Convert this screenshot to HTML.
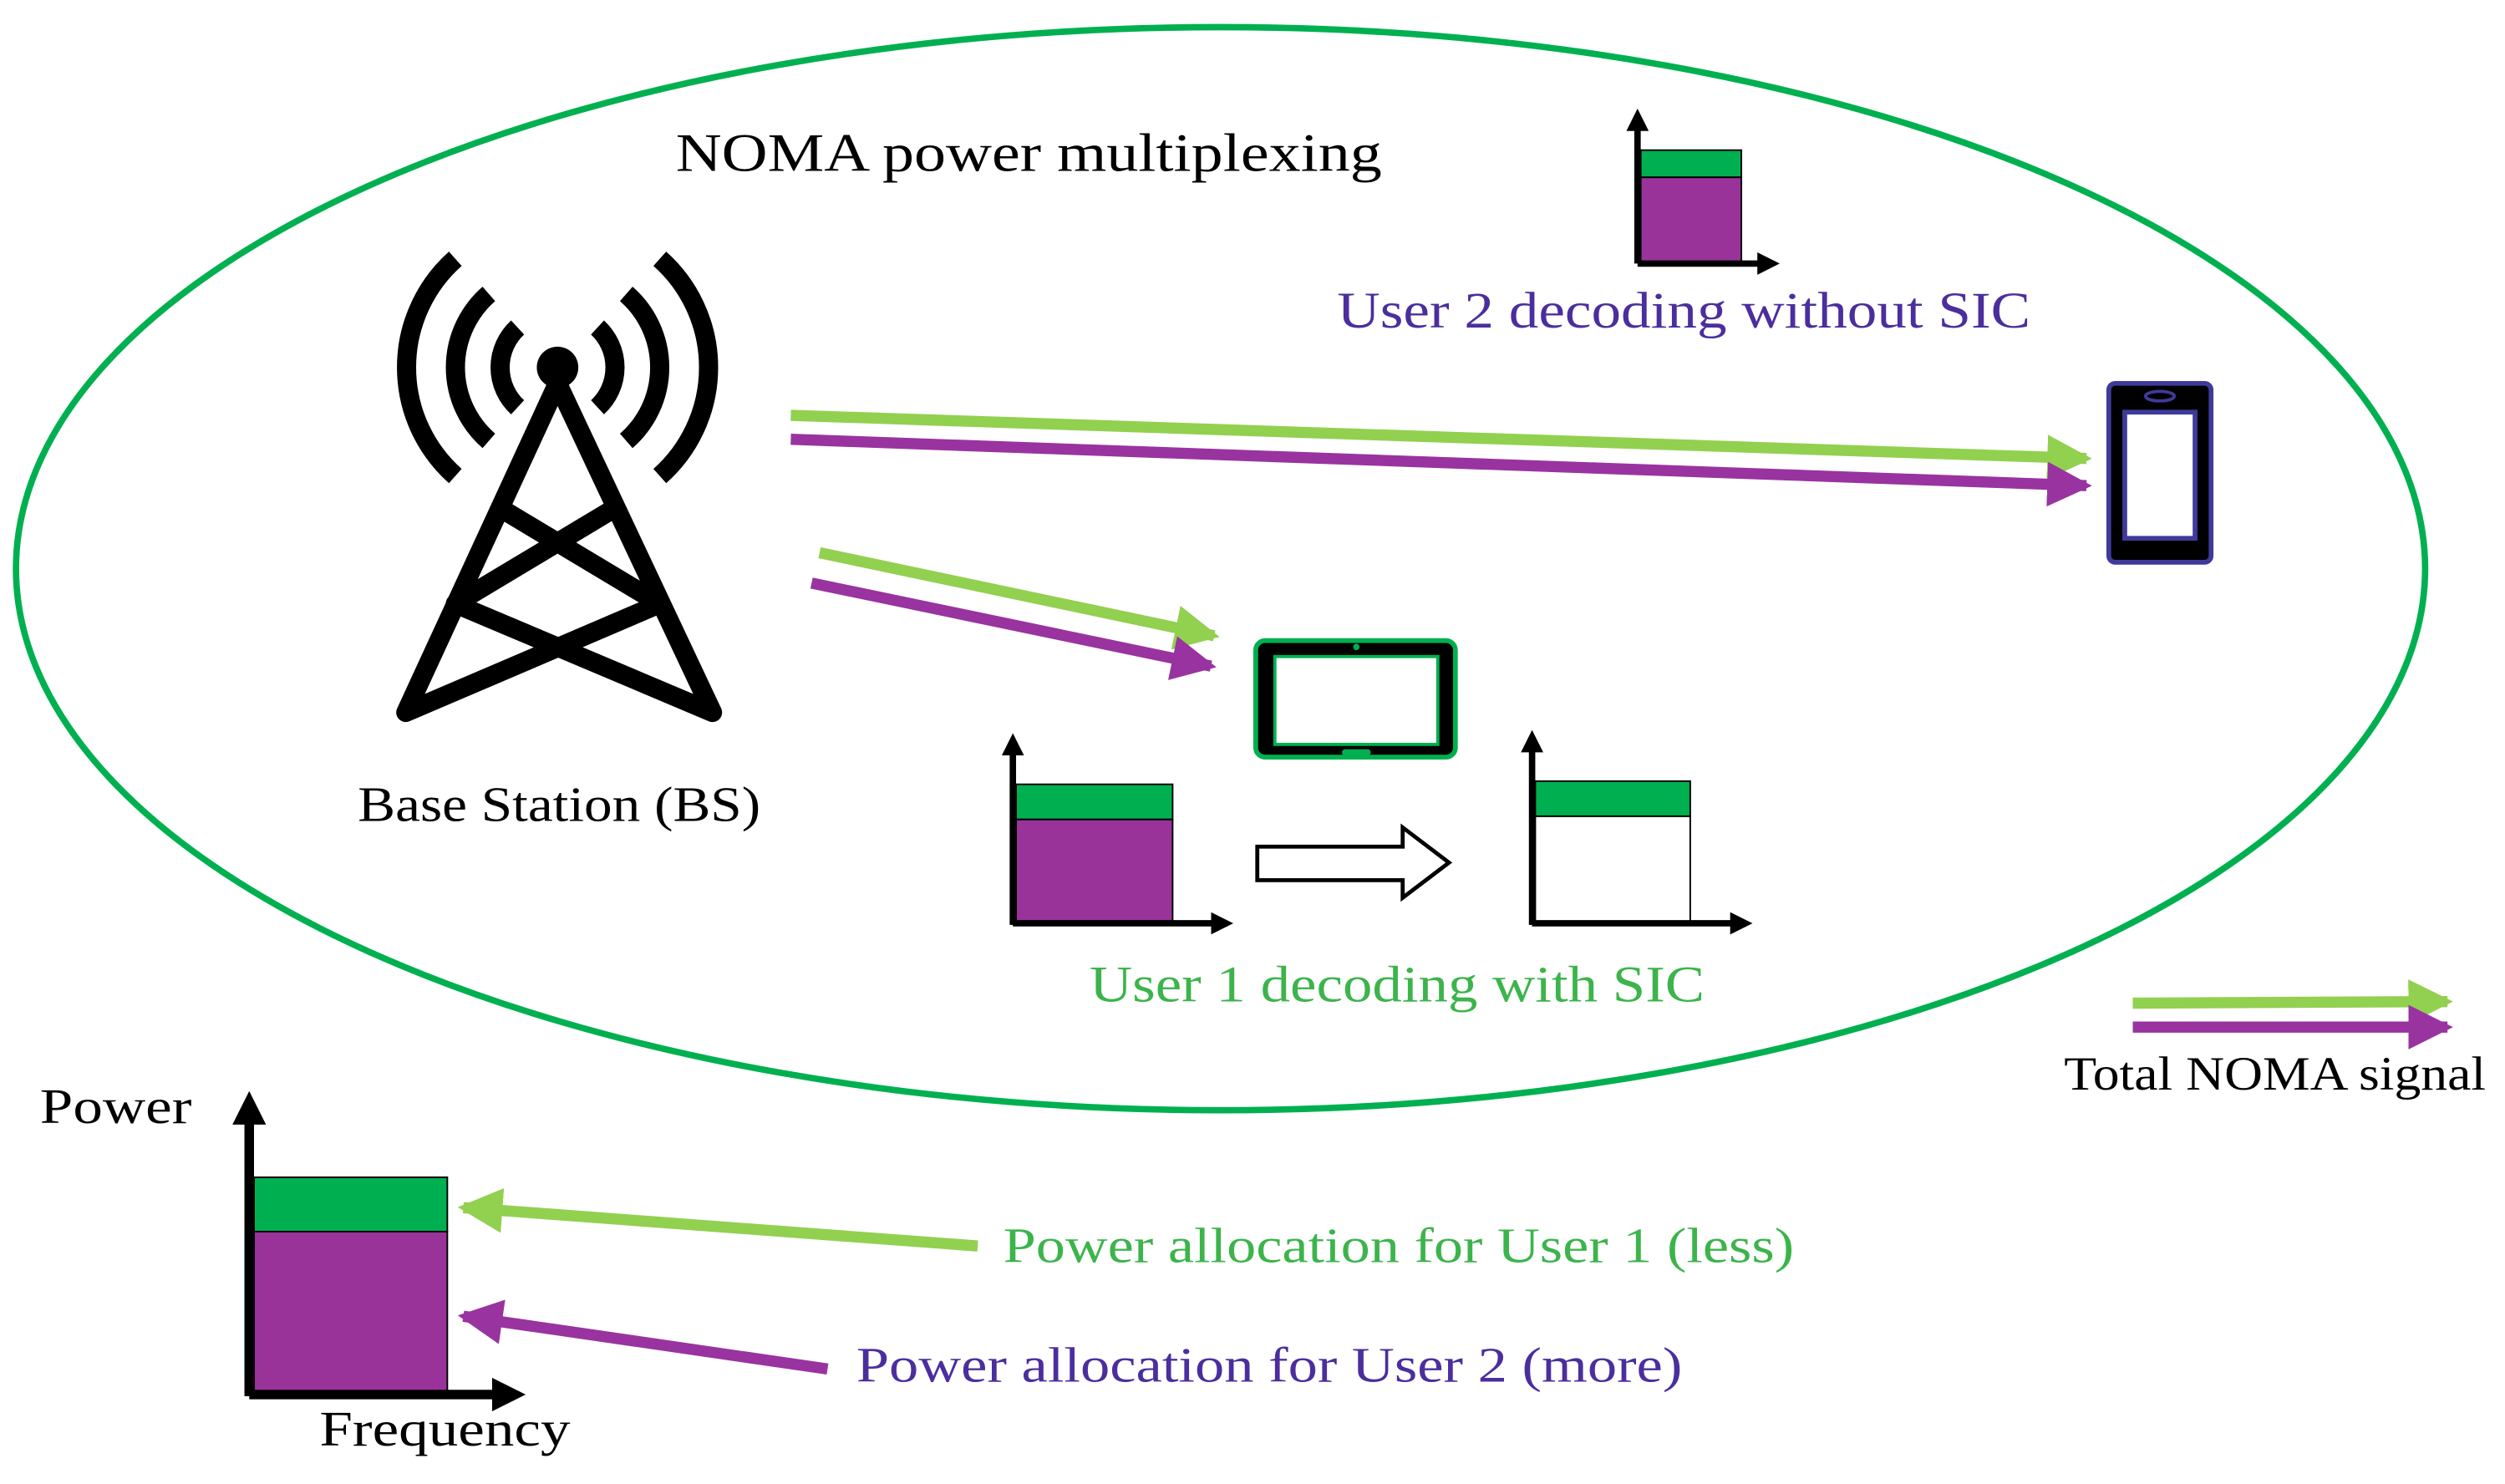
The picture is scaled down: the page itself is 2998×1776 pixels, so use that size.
<!DOCTYPE html>
<html><head><meta charset="utf-8"><style>
html,body{margin:0;padding:0;background:#fff;}
svg{display:block;}
text{font-family:"Liberation Serif",serif;}
</style></head><body>
<svg width="2998" height="1776" viewBox="0 0 1568 929" preserveAspectRatio="none" xmlns="http://www.w3.org/2000/svg">
<defs>
<marker id="hg" markerWidth="4" markerHeight="4" refX="3.5" refY="2" orient="auto" markerUnits="strokeWidth"><path d="M0,0 L4,2 L0,4 z" fill="#92d050"/></marker>
<marker id="hp" markerWidth="4" markerHeight="4" refX="3.5" refY="2" orient="auto" markerUnits="strokeWidth"><path d="M0,0 L4,2 L0,4 z" fill="#9933a0"/></marker>
<marker id="hk" markerWidth="3.5" markerHeight="3.5" refX="2" refY="1.75" orient="auto" markerUnits="strokeWidth"><path d="M0,0 L3.5,1.75 L0,3.5 z" fill="#000"/></marker>
</defs>
<rect width="1568" height="929" fill="#fff"/>
<ellipse cx="764" cy="356" rx="754" ry="339" fill="none" stroke="#00b050" stroke-width="4"/>
<text x="423" y="107" font-size="34" textLength="442" lengthAdjust="spacingAndGlyphs">NOMA power multiplexing</text>

<!-- tower -->
<g stroke="#000" stroke-width="12" fill="none" stroke-linecap="round" stroke-linejoin="round">
<path d="M349,240 L254,446 L413,378 L313,318"/>
<path d="M349,240 L446,446 L285,378 L385,318"/>
</g>
<g stroke="#000" stroke-width="12" fill="none">
<path d="M324,205 A34,34 0 0 0 324,255"/>
<path d="M374,205 A34,34 0 0 1 374,255"/>
<path d="M306,184 A61,61 0 0 0 306,276"/>
<path d="M392,184 A61,61 0 0 1 392,276"/>
<path d="M285,162 A91,91 0 0 0 285,298"/>
<path d="M413,162 A91,91 0 0 1 413,298"/>
</g>
<circle cx="349" cy="230" r="13" fill="#000"/>
<text x="224" y="514" font-size="31" textLength="252" lengthAdjust="spacingAndGlyphs">Base Station (BS)</text>

<!-- signal arrows -->
<line x1="495" y1="260" x2="1306" y2="287" stroke="#92d050" stroke-width="7" marker-end="url(#hg)"/>
<line x1="495" y1="275" x2="1306" y2="304" stroke="#9933a0" stroke-width="7" marker-end="url(#hp)"/>
<line x1="513" y1="346" x2="760" y2="398" stroke="#92d050" stroke-width="7" marker-end="url(#hg)"/>
<line x1="508" y1="365" x2="758" y2="417" stroke="#9933a0" stroke-width="7" marker-end="url(#hp)"/>

<!-- phone -->
<rect x="1320" y="240" width="64" height="112" rx="4" fill="#000" stroke="#3f3a9a" stroke-width="3"/>
<rect x="1330" y="258" width="44" height="79" fill="#fff" stroke="#3f3a9a" stroke-width="3"/>
<ellipse cx="1352" cy="248" rx="9" ry="3" fill="none" stroke="#3f3a9a" stroke-width="2"/>

<!-- tablet -->
<rect x="786" y="401" width="125" height="73" rx="6" fill="#000" stroke="#00b050" stroke-width="3"/>
<rect x="798" y="411" width="102" height="55" fill="#fff" stroke="#00b050" stroke-width="2"/>
<circle cx="849" cy="405" r="2" fill="#00b050"/>
<rect x="840" y="469" width="18" height="4" rx="2" fill="#00b050"/>

<!-- top chart -->
<rect x="1027" y="94" width="63" height="17" fill="#00b050" stroke="#000" stroke-width="1"/>
<rect x="1027" y="111" width="63" height="54" fill="#993399" stroke="#000" stroke-width="1"/>
<g stroke="#000" stroke-width="4" fill="none">
<line x1="1025" y1="165" x2="1025" y2="74" marker-end="url(#hk)"/>
<line x1="1025" y1="165" x2="1108" y2="165" marker-end="url(#hk)"/>
</g>
<text x="837" y="205" font-size="32" fill="#4b2e9e" textLength="434" lengthAdjust="spacingAndGlyphs">User 2 decoding without SIC</text>

<!-- left SIC chart -->
<rect x="636" y="491" width="98" height="22" fill="#00b050" stroke="#000" stroke-width="1"/>
<rect x="636" y="513" width="98" height="65" fill="#993399" stroke="#000" stroke-width="1"/>
<g stroke="#000" stroke-width="4" fill="none">
<line x1="634" y1="579" x2="634" y2="465" marker-end="url(#hk)"/>
<line x1="634" y1="578" x2="766" y2="578" marker-end="url(#hk)"/>
</g>
<path d="M787,530 L878,530 L878,518 L907,540 L878,562 L878,551 L787,551 Z" fill="#fff" stroke="#000" stroke-width="2.5"/>
<rect x="961" y="489" width="97" height="22" fill="#00b050" stroke="#000" stroke-width="1"/>
<rect x="961" y="511" width="97" height="67" fill="#fff" stroke="#000" stroke-width="1"/>
<g stroke="#000" stroke-width="4" fill="none">
<line x1="959" y1="579" x2="959" y2="463" marker-end="url(#hk)"/>
<line x1="959" y1="578" x2="1091" y2="578" marker-end="url(#hk)"/>
</g>
<text x="682" y="627" font-size="32" fill="#3cb44b" textLength="385" lengthAdjust="spacingAndGlyphs">User 1 decoding with SIC</text>

<!-- legend -->
<line x1="1335" y1="628" x2="1532" y2="627" stroke="#92d050" stroke-width="7" marker-end="url(#hg)"/>
<line x1="1335" y1="643" x2="1532" y2="643" stroke="#9933a0" stroke-width="7" marker-end="url(#hp)"/>
<text x="1292" y="682" font-size="30" textLength="264" lengthAdjust="spacingAndGlyphs">Total NOMA signal</text>

<!-- bottom chart -->
<text x="25" y="703" font-size="31" textLength="95" lengthAdjust="spacingAndGlyphs">Power</text>
<rect x="159" y="737" width="121" height="34" fill="#00b050" stroke="#000" stroke-width="1"/>
<rect x="159" y="771" width="121" height="100" fill="#993399" stroke="#000" stroke-width="1"/>
<g stroke="#000" stroke-width="6" fill="none">
<line x1="156" y1="874" x2="156" y2="692" marker-end="url(#hk)"/>
<line x1="156" y1="873" x2="320" y2="873" marker-end="url(#hk)"/>
</g>
<text x="200" y="905" font-size="31" textLength="157" lengthAdjust="spacingAndGlyphs">Frequency</text>
<line x1="612" y1="780" x2="290" y2="756" stroke="#92d050" stroke-width="7" marker-end="url(#hg)"/>
<line x1="518" y1="857" x2="290" y2="824" stroke="#9933a0" stroke-width="7" marker-end="url(#hp)"/>
<text x="628" y="790" font-size="31" fill="#3cb44b" textLength="495" lengthAdjust="spacingAndGlyphs">Power allocation for User 1 (less)</text>
<text x="536" y="865" font-size="31" fill="#4b2e9e" textLength="517" lengthAdjust="spacingAndGlyphs">Power allocation for User 2 (more)</text>
</svg>
</body></html>
